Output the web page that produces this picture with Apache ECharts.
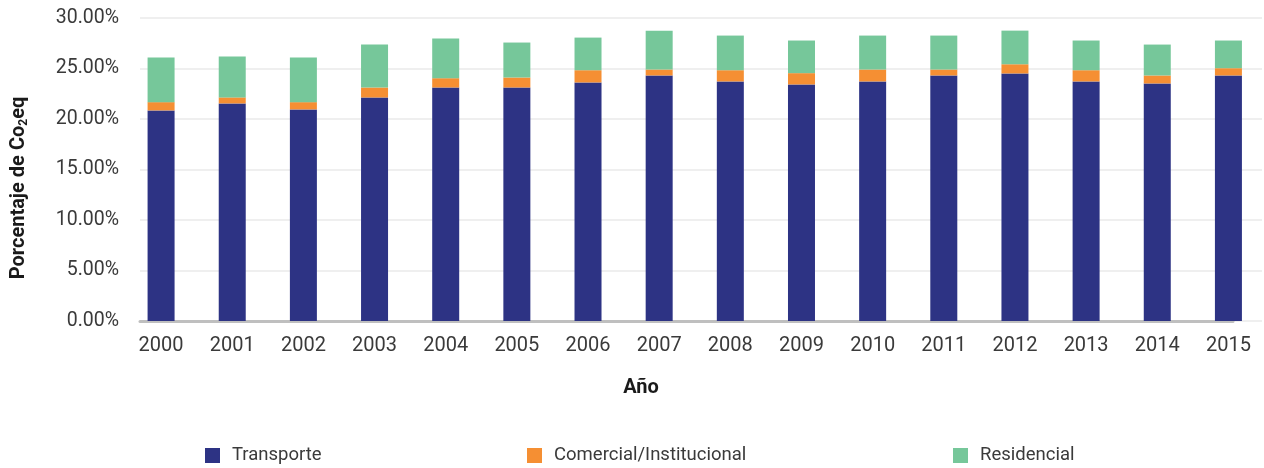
<!DOCTYPE html>
<html>
<head>
<meta charset="utf-8">
<script src="https://cdn.jsdelivr.net/npm/echarts@6/dist/echarts.min.js"></script>
<style>
  html, body { margin: 0; padding: 0; background: #ffffff; }
  #chart { width: 1264px; height: 468px; }
</style>
</head>
<body>
<div id="chart"></div>
<script>
// Emission shares by sector (% of CO2eq), stacked per year
const years = ['2000', '2001', '2002', '2003', '2004', '2005', '2006', '2007',
               '2008', '2009', '2010', '2011', '2012', '2013', '2014', '2015'];
const transporte  = [20.85, 21.54, 20.95, 22.13, 23.12, 23.12, 23.62, 24.31, 23.72, 23.42, 23.72, 24.31, 24.51, 23.72, 23.52, 24.31];
const comercial   = [0.82, 0.60, 0.72, 0.99, 0.92, 0.99, 1.21, 0.59, 1.11, 1.12, 1.18, 0.59, 0.91, 1.11, 0.79, 0.72];
const residencial = [4.42, 4.06, 4.42, 4.25, 3.92, 3.46, 3.23, 3.85, 3.43, 3.23, 3.36, 3.36, 3.33, 2.94, 3.06, 2.74];
const yTicks = { min: 0, max: 30, interval: 5 };

const FONT = 'Roboto, "Noto Sans", sans-serif';
const TEXT = '#3a3a3a';
const TITLE = '#1a1a1a';
const colors = { transporte: '#2d3384', comercial: '#f58f33', residencial: '#76c79a' };

const chart = echarts.init(document.getElementById('chart'), null, { renderer: 'canvas' });

const vTop = 18, vBottom = 147;

const hiddenValueAxis = (grid) => ({
  type: 'value', gridIndex: grid, min: yTicks.min, max: yTicks.max, interval: yTicks.interval,
  show: false
});

function legendAt(name, left) {
  return {
    left: left, top: 446, padding: 0, itemWidth: 15, itemHeight: 15, icon: 'rect',
    data: [name], selectedMode: false,
    textStyle: { fontFamily: FONT, fontSize: 18.5, color: TEXT, lineHeight: 15, padding: [2, 0, 0, 7] }
  };
}

const option = {
  backgroundColor: '#ffffff',
  animation: false,
  grid: [
    // value scale, tick labels and gridlines
    { left: 140, right: 2, top: vTop, bottom: vBottom },
    // baseline
    { left: 140, right: 31, top: vTop, bottom: vBottom },
    // bars and year labels
    { left: 125.5, right: -13.5, top: vTop, bottom: vBottom }
  ],
  xAxis: [
    { type: 'category', gridIndex: 0, data: years, show: false },
    {
      type: 'category', gridIndex: 1, data: years,
      axisLine: { show: true, lineStyle: { color: '#bfbfbf', width: 3 } },
      axisTick: { show: false }, axisLabel: { show: false }
    },
    {
      type: 'category', gridIndex: 2, data: years,
      axisLine: { show: false }, axisTick: { show: false },
      axisLabel: { fontFamily: FONT, fontSize: 20, color: TEXT, margin: 15 }
    }
  ],
  yAxis: [
    {
      type: 'value', gridIndex: 0, min: yTicks.min, max: yTicks.max, interval: yTicks.interval,
      axisLine: { show: false }, axisTick: { show: false },
      splitLine: { show: true, lineStyle: { color: '#efefef', width: 2 } },
      axisLabel: {
        fontFamily: FONT, fontSize: 19.5, color: TEXT, margin: 21, padding: [3, 0, 0, 0],
        formatter: (v) => v.toFixed(2) + '%'
      }
    },
    hiddenValueAxis(1),
    hiddenValueAxis(2)
  ],
  legend: [
    legendAt('Transporte', 205),
    legendAt('Comercial/Institucional', 527),
    legendAt('Residencial', 953)
  ],
  graphic: [
    {
      type: 'text', x: 19, y: 188, rotation: Math.PI / 2,
      style: {
        text: 'Porcentaje de Co{s|2}eq',
        fontFamily: FONT, fontSize: 20, fontWeight: 'bold', fill: TITLE,
        align: 'center', verticalAlign: 'middle',
        rich: {
          s: { fontFamily: FONT, fontSize: 12, fontWeight: 'bold', fill: TITLE,
               verticalAlign: 'bottom', lineHeight: 22 }
        }
      }
    },
    {
      type: 'text', x: 641, y: 388,
      style: {
        text: 'Año', fontFamily: FONT, fontSize: 20, fontWeight: 'bold', fill: TITLE,
        align: 'center', verticalAlign: 'middle'
      }
    }
  ],
  series: [
    { name: 'Transporte', data: transporte, color: colors.transporte },
    { name: 'Comercial/Institucional', data: comercial, color: colors.comercial },
    { name: 'Residencial', data: residencial, color: colors.residencial }
  ].map((s) => ({
    name: s.name, type: 'bar', stack: 'total', xAxisIndex: 2, yAxisIndex: 2,
    barWidth: 27, data: s.data, itemStyle: { color: s.color }, emphasis: { disabled: true }
  }))
};

chart.setOption(option);
</script>
</body>
</html>
